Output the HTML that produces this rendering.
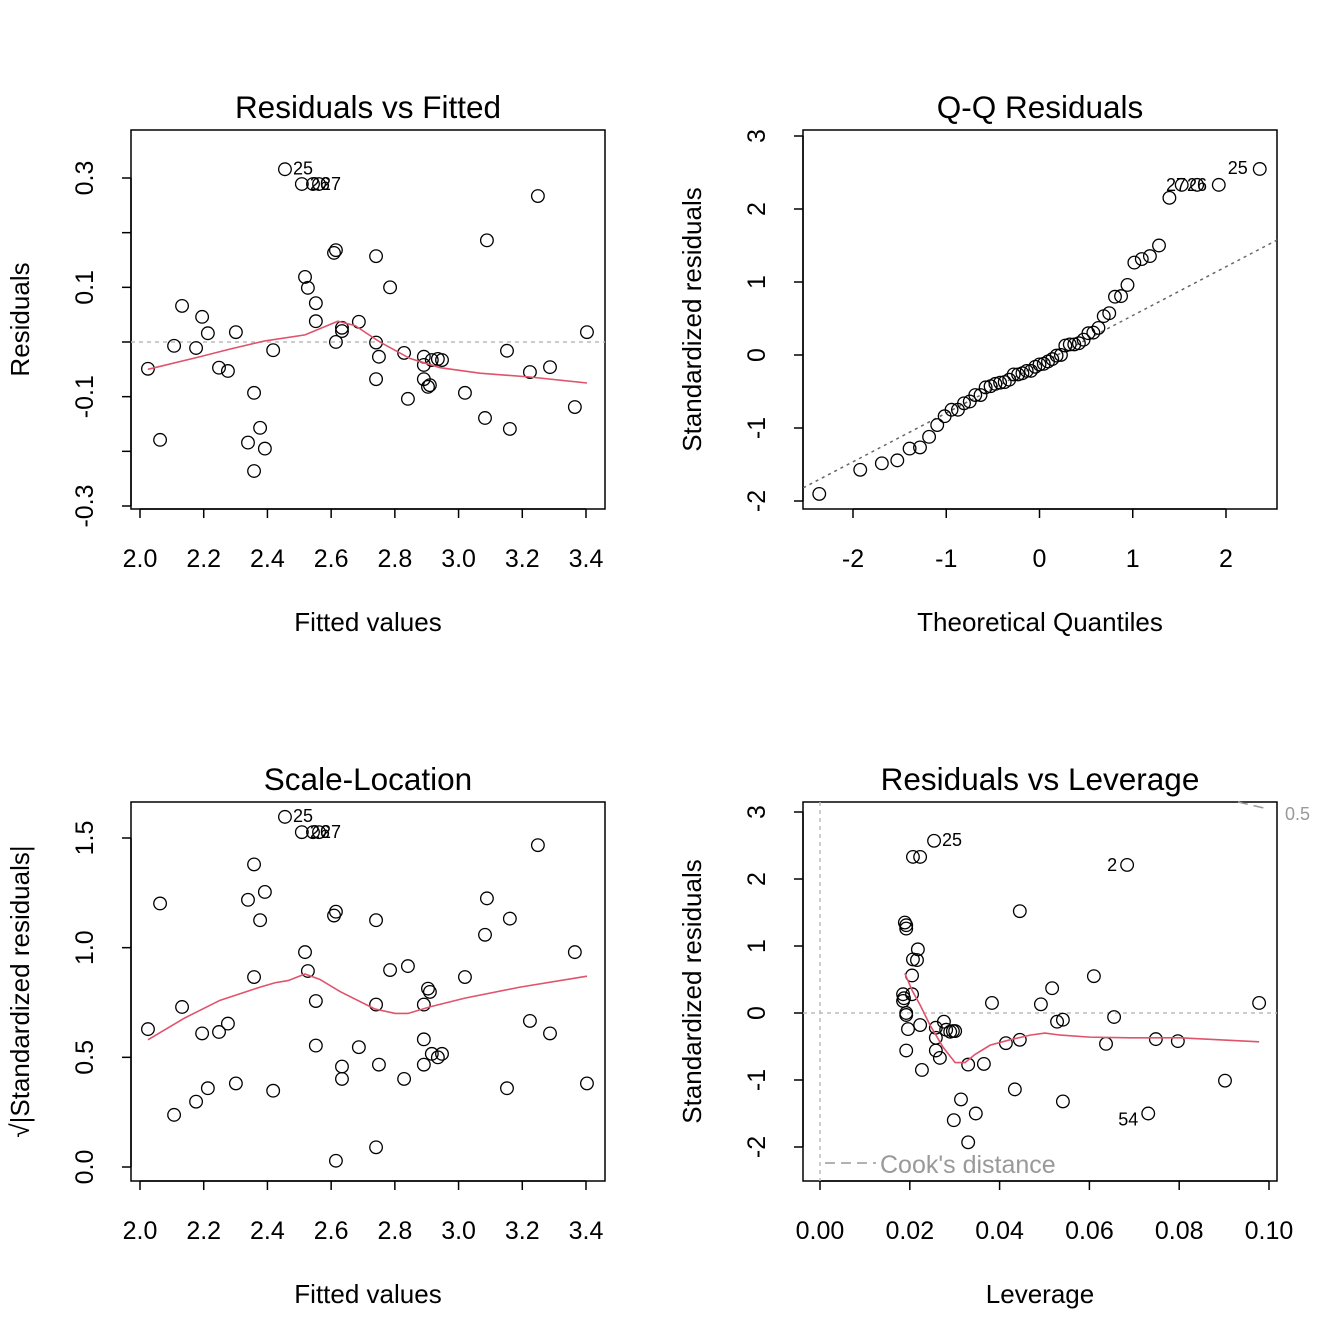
<!DOCTYPE html>
<html><head><meta charset="utf-8">
<style>
html,body{margin:0;padding:0;background:#fff;}
svg{display:block;font-family:"Liberation Sans",Arial,sans-serif;}
</style></head>
<body>
<svg id="chart" width="1344" height="1344" viewBox="0 0 1344 1344" xmlns="http://www.w3.org/2000/svg"></svg>
<script>
// ---- data ----
const fitted = [2.025,2.063,2.107,2.132,2.176,2.195,2.213,2.248,2.276,2.301,2.339,2.358,2.358,2.377,2.392,2.418,2.455,2.508,2.518,2.527,2.543,2.552,2.552,2.562,2.609,2.615,2.615,2.634,2.634,2.687,2.741,2.741,2.741,2.750,2.785,2.829,2.841,2.891,2.891,2.891,2.904,2.910,2.916,2.935,2.948,3.020,3.083,3.089,3.152,3.161,3.224,3.249,3.287,3.365,3.403];
const residuals = [-0.049,-0.179,-0.007,0.066,-0.011,0.046,0.016,-0.047,-0.053,0.018,-0.184,-0.093,-0.236,-0.157,-0.195,-0.015,0.316,0.289,0.119,0.099,0.289,0.071,0.038,0.289,0.163,0.168,0.0001,0.026,0.020,0.037,0.157,-0.001,-0.068,-0.027,0.100,-0.020,-0.104,-0.027,-0.042,-0.068,-0.082,-0.079,-0.033,-0.031,-0.033,-0.093,-0.139,0.186,-0.016,-0.159,-0.055,0.267,-0.046,-0.119,0.018];
const residScale = 0.124;
const rvfSmoothX = [2.025,2.188,2.282,2.392,2.518,2.621,2.675,2.753,2.847,2.942,3.067,3.224,3.403];
const rvfSmoothY = [-0.05,-0.027,-0.013,0.002,0.013,0.038,0.03,0.0,-0.03,-0.047,-0.057,-0.064,-0.075];
const qqSlope = 0.668, qqIntercept = -0.127;
const slSmoothX = [2.025,2.141,2.251,2.377,2.424,2.465,2.518,2.565,2.628,2.738,2.801,2.841,2.910,3.020,3.193,3.403];
const slSmoothY = [0.58,0.68,0.76,0.82,0.84,0.85,0.88,0.855,0.80,0.72,0.70,0.70,0.73,0.77,0.82,0.87];
const leverage = [0.0254,0.0207,0.0223,0.0684,0.0445,0.0189,0.0192,0.0192,0.0218,0.0207,0.0216,0.0205,0.0185,0.0187,0.0205,0.0185,0.0192,0.0192,0.0196,0.0223,0.0192,0.0227,0.0258,0.0258,0.0258,0.0267,0.0276,0.0281,0.0290,0.0296,0.0301,0.0314,0.0298,0.0330,0.0330,0.0347,0.0365,0.0383,0.0414,0.0434,0.0445,0.0492,0.0517,0.0528,0.0541,0.0541,0.0610,0.0637,0.0655,0.0731,0.0748,0.0797,0.0902,0.0978];
const levStd = [2.57,2.33,2.33,2.21,1.52,1.35,1.31,1.26,0.95,0.80,0.79,0.56,0.28,0.22,0.28,0.18,0.0,-0.03,-0.24,-0.18,-0.56,-0.85,-0.22,-0.37,-0.56,-0.67,-0.13,-0.25,-0.28,-0.27,-0.27,-1.29,-1.60,-1.93,-0.77,-1.50,-0.76,0.15,-0.45,-1.14,-0.40,0.13,0.37,-0.13,-0.10,-1.32,0.55,-0.46,-0.06,-1.50,-0.39,-0.42,-1.01,0.15];
const levSmoothX = [0.0189,0.0205,0.0223,0.0245,0.0274,0.0301,0.0323,0.0345,0.0379,0.0423,0.0468,0.0501,0.0535,0.0601,0.069,0.0802,0.0978];
const levSmoothY = [0.59,0.34,0.12,-0.18,-0.51,-0.74,-0.74,-0.62,-0.48,-0.40,-0.33,-0.30,-0.33,-0.36,-0.37,-0.37,-0.43];

// ---- helpers ----
const svg = document.getElementById('chart');
const NS = 'http://www.w3.org/2000/svg';
function mk(tag, attrs, parent){ const e=document.createElementNS(NS,tag); for(const k in attrs) e.setAttribute(k,attrs[k]); (parent||svg).appendChild(e); return e; }
function lin(d0,p0,d1,p1){ return v => p0+(v-d0)*(p1-p0)/(d1-d0); }
function txt(s,x,y,size,opts,parent){ const t=mk('text',Object.assign({x:x,y:y,'font-size':size,'text-anchor':'middle',fill:'#000'},opts||{}),parent); t.textContent=s; return t; }

function panel(name, box, sx, sy, xt, xl, yt, yl, title, xlab, ylab){
  const g = mk('g',{});
  
  
  const b = mk('rect',{x:box[0],y:box[1],width:box[2]-box[0],height:box[3]-box[1],fill:'none',stroke:'#000','stroke-width':1.5},g);
  
  
  const xa = mk('g',{},g);
  
  
  mk('line',{x1:sx(xt[0]),x2:sx(xt[xt.length-1]),y1:box[3],y2:box[3],stroke:'#000','stroke-width':1.5},xa);
  xt.forEach((v,i)=>{ mk('line',{x1:sx(v),x2:sx(v),y1:box[3],y2:box[3]+9,stroke:'#000','stroke-width':1.5},xa);
    if(xl[i]!=='') { const t=txt(xl[i],sx(v),box[3]+58,25,{},xa);
      
       } });
  const ya = mk('g',{},g);
  
  
  mk('line',{x1:box[0],x2:box[0],y1:sy(yt[0]),y2:sy(yt[yt.length-1]),stroke:'#000','stroke-width':1.5},ya);
  yt.forEach((v,i)=>{ mk('line',{x1:box[0],x2:box[0]-9,y1:sy(v),y2:sy(v),stroke:'#000','stroke-width':1.5},ya);
    if(yl[i]!=='') { const x=box[0]-46, y=sy(v); const t=txt(yl[i],x,y+8,25,{transform:`rotate(-90 ${x} ${y})`},ya);
      
       } });
  const tt = txt(title,(box[0]+box[2])/2,box[1]-12,31.5,{},g);
  
  
  const xt2 = txt(xlab,(box[0]+box[2])/2,box[3]+122,26,{},g);
  
  
  const yx = box[0]-111, yy=(box[1]+box[3])/2;
  const yt2 = txt(ylab,yx,yy+9,26,{transform:`rotate(-90 ${yx} ${yy})`},g);
  
  
  return g;
}
function pts(g, xs, ys, sx, sy){
  xs.forEach((v,i)=>{ const c=mk('circle',{cx:sx(v),cy:sy(ys[i]),r:6.3,fill:'none',stroke:'#000','stroke-width':1.3},g);
    
     });
}
function line(g, xs, ys, sx, sy, color, dash, nm){
  const p = mk('polyline',{points:xs.map((v,i)=>sx(v)+','+sy(ys[i])).join(' '),fill:'none',stroke:color,'stroke-width':1.6,'stroke-dasharray':dash||'none'},g);
  
  
}
function lab(g,s,x,y){ const t=txt(s,x,y,18,{'text-anchor':'start'},g);
  
   }

// ---- Panel 1: Residuals vs Fitted ----
{
  const box=[131,130,605,509];
  const sx=lin(2.0,140,3.4,586), sy=lin(0.3,178,-0.3,506);
  const g=panel('residuals-vs-fitted',box,sx,sy,[2.0,2.2,2.4,2.6,2.8,3.0,3.2,3.4],['2.0','2.2','2.4','2.6','2.8','3.0','3.2','3.4'],
    [-0.3,-0.2,-0.1,0,0.1,0.2,0.3],['-0.3','','-0.1','','0.1','','0.3'],'Residuals vs Fitted','Fitted values','Residuals');
  mk('line',{x1:box[0],x2:box[2],y1:sy(0),y2:sy(0),stroke:'#bbb','stroke-width':1.5,'stroke-dasharray':'4,4'},g);
  pts(g,fitted,residuals,sx,sy);
  line(g,rvfSmoothX,rvfSmoothY,sx,sy,'#df536b',null,'smoother-line');
  lab(g,'25',sx(2.455)+8,sy(0.316)+5); lab(g,'26',sx(2.508)+8,sy(0.289)+6); lab(g,'27',sx(2.543)+8,sy(0.289)+6);
}
// ---- Panel 2: Q-Q ----
function qnorm(p){
  const a=[-39.69683028665376,220.9460984245205,-275.9285104469687,138.3577518672690,-30.66479806614716,2.506628277459239];
  const b=[-54.47609879822406,161.5858368580409,-155.6989798598866,66.80131188771972,-13.28068155288572];
  const c=[-0.007784894002430293,-0.3223964580411365,-2.400758277161838,-2.549732539343734,4.374664141464968,2.938163982698783];
  const d=[0.007784695709041462,0.3224671290700398,2.445134137142996,3.754408661907416];
  let q,r;
  if(p<0.02425){q=Math.sqrt(-2*Math.log(p));return (((((c[0]*q+c[1])*q+c[2])*q+c[3])*q+c[4])*q+c[5])/((((d[0]*q+d[1])*q+d[2])*q+d[3])*q+1);}
  if(p>1-0.02425){q=Math.sqrt(-2*Math.log(1-p));return -(((((c[0]*q+c[1])*q+c[2])*q+c[3])*q+c[4])*q+c[5])/((((d[0]*q+d[1])*q+d[2])*q+d[3])*q+1);}
  q=p-0.5;r=q*q;return (((((a[0]*r+a[1])*r+a[2])*r+a[3])*r+a[4])*r+a[5])*q/(((((b[0]*r+b[1])*r+b[2])*r+b[3])*r+b[4])*r+1);
}
{
  const box=[803,130,1277,509];
  const sx=lin(-2,853,2,1226), sy=lin(0,355,1,282);
  const g=panel('qq-residuals',box,sx,sy,[-2,-1,0,1,2],['-2','-1','0','1','2'],[-2,-1,0,1,2,3],['-2','-1','0','1','2','3'],'Q-Q Residuals','Theoretical Quantiles','Standardized residuals');
  const sr=residuals.map(r=>r/residScale).sort((a,b)=>a-b);
  const n=sr.length;
  const tq=sr.map((v,i)=>qnorm((i+1-0.5)/n));
  const xa=-2.6, xb=2.6;
  const cp=mk('clipPath',{id:'qqclip'}); mk('rect',{x:box[0],y:box[1],width:box[2]-box[0],height:box[3]-box[1]},cp);
  const ln=mk('line',{x1:sx(xa),y1:sy(qqIntercept+qqSlope*xa),x2:sx(xb),y2:sy(qqIntercept+qqSlope*xb),stroke:'#666','stroke-width':1.5,'stroke-dasharray':'3,4','clip-path':'url(#qqclip)'},g);
  
  
  pts(g,tq,sr,sx,sy);
  lab(g,'25',sx(tq[n-1])-32,sy(sr[n-1])+5); lab(g,'27',1166,191); lab(g,'26',1187,191);
}
// ---- Panel 3: Scale-Location ----
{
  const box=[131,802,605,1181];
  const sx=lin(2.0,140,3.4,586), sy=lin(0,1167,1.5,838);
  const g=panel('scale-location',box,sx,sy,[2.0,2.2,2.4,2.6,2.8,3.0,3.2,3.4],['2.0','2.2','2.4','2.6','2.8','3.0','3.2','3.4'],
    [0,0.5,1.0,1.5],['0.0','0.5','1.0','1.5'],'Scale-Location','Fitted values','\u221A|Standardized residuals|');
  const sl=residuals.map(r=>Math.sqrt(Math.abs(r/residScale)));
  pts(g,fitted,sl,sx,sy);
  line(g,slSmoothX,slSmoothY,sx,sy,'#df536b',null,'smoother-line');
  lab(g,'25',sx(2.455)+8,sy(sl[16])+5); lab(g,'26',sx(2.508)+8,sy(sl[17])+6); lab(g,'27',sx(2.543)+8,sy(sl[20])+6);
}
// ---- Panel 4: Residuals vs Leverage ----
{
  const box=[803,802,1277,1181];
  const sx=lin(0,820,0.1,1269), sy=lin(0,1013,1,946);
  const g=panel('residuals-vs-leverage',box,sx,sy,[0,0.02,0.04,0.06,0.08,0.1],['0.00','0.02','0.04','0.06','0.08','0.10'],[-2,-1,0,1,2,3],['-2','-1','0','1','2','3'],'Residuals vs Leverage','Leverage','Standardized residuals');
  mk('line',{x1:box[0],x2:box[2],y1:sy(0),y2:sy(0),stroke:'#bbb','stroke-width':1.5,'stroke-dasharray':'4,4'},g);
  mk('line',{x1:sx(0),x2:sx(0),y1:box[1],y2:box[3],stroke:'#bbb','stroke-width':1.5,'stroke-dasharray':'4,4'},g);
  const ck=mk('line',{x1:1238,y1:802,x2:1268,y2:809,stroke:'#999','stroke-width':1.5,'stroke-dasharray':'10,6'},g);
  
  
  const c5=txt('0.5',1285,820,18,{'text-anchor':'start',fill:'#999'},g);
  
  
  pts(g,leverage,levStd,sx,sy);
  line(g,levSmoothX,levSmoothY,sx,sy,'#df536b',null,'smoother-line');
  lab(g,'25',sx(leverage[0])+8,sy(levStd[0])+5); lab(g,'2',sx(leverage[3])-20,sy(levStd[3])+6); lab(g,'54',sx(leverage[49])-30,sy(levStd[49])+12);
  const lg=mk('g',{},g);
  
  
  mk('line',{x1:825,x2:876,y1:1163,y2:1163,stroke:'#999','stroke-width':1.5,'stroke-dasharray':'10,6'},lg);
  txt("Cook's distance",880,1173,25,{'text-anchor':'start',fill:'#999'},lg);
}
</script>
</body></html>
